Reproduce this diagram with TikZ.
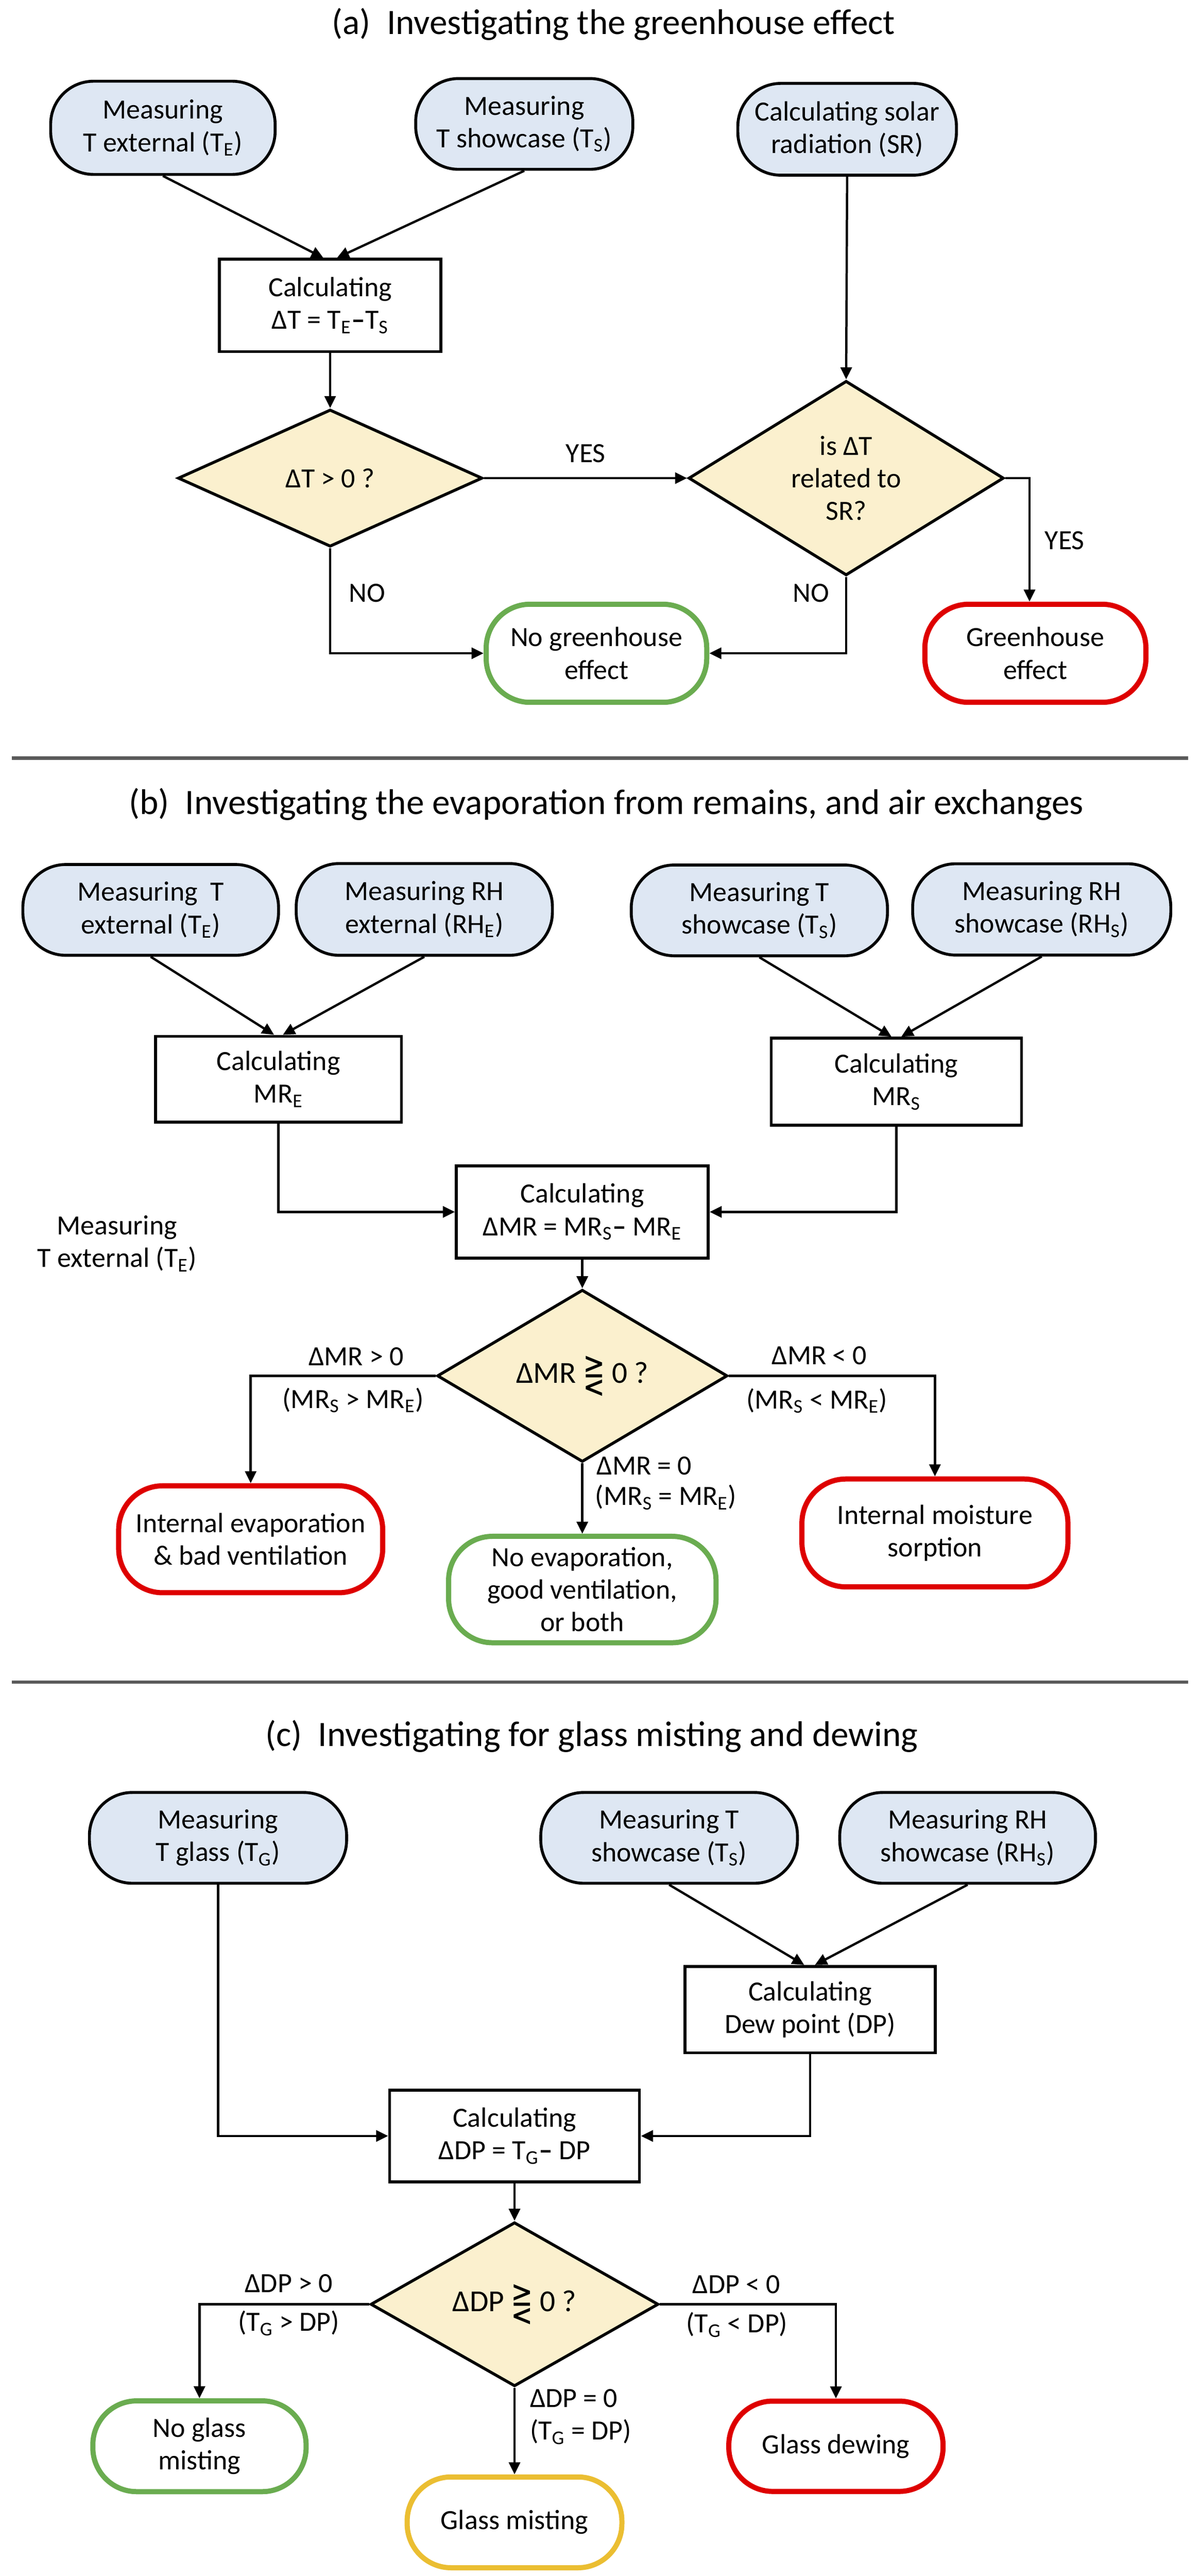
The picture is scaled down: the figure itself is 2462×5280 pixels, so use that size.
\documentclass[tikz,border=0pt]{standalone}
\usepackage{fontspec}
\setmainfont{Carlito}
\newfontfamily\symfnt{DejaVu Sans}
\usetikzlibrary{shapes.geometric,arrows.meta}
\definecolor{bluefill}{RGB}{222,231,243}
\definecolor{decfill}{RGB}{251,240,206}
\definecolor{goodgreen}{RGB}{106,172,80}
\definecolor{badred}{RGB}{222,0,0}
\definecolor{warnyellow}{RGB}{235,190,50}
\definecolor{sepgray}{RGB}{90,90,90}
\newcommand\bodyfont{\fontsize{16.2}{19}\selectfont}
\newcommand\titlefont{\fontsize{20.8}{24}\selectfont}
\newcommand\decfont{\fontsize{17.8}{21}\selectfont}
\newcommand\sbs[1]{\textsubscript{#1}}
\newcommand\gleq{\raisebox{-0.14em}{\scalebox{0.95}[1.35]{\symfnt\fontsize{16}{19}\selectfont ⋛}}}
\tikzset{
  base/.style={draw=black, line width=1.7pt, align=center, font=\bodyfont, inner sep=0pt},
  sz/.style 2 args={minimum width=#1, minimum height=#2},
  meas/.style={base, fill=bluefill, rounded corners=0.88cm},
  calc/.style={base, fill=white},
  dec/.style={base, diamond, fill=decfill},
  term/.style={base, line width=3pt, rounded corners=0.9cm, fill=white},
  good/.style={term, draw=goodgreen},
  bad/.style={term, draw=badred},
  warn/.style={term, draw=warnyellow},
  arr/.style={line width=1.35pt, -{Triangle[length=7pt,width=6.5pt]}},
  lbl/.style={font=\bodyfont, inner sep=0pt, align=center},
  ttl/.style={font=\titlefont, inner sep=0pt},
  sepline/.style={draw=sepgray, line width=1.9pt},
}
\begin{document}
\begin{tikzpicture}[x=0.01cm, y=-0.01cm]
\useasboundingbox[fill=white] (0,0) rectangle (2462,5280);

% ---------------- (a) ----------------
\node[ttl] (ta) at (1258,50) {(a)\ \ Investigating the greenhouse effect};
\node[meas, sz={4.60cm}{1.91cm}] (A1) at (334,262) {Measuring\\T external (T\sbs{E})};
\node[meas, sz={4.45cm}{1.86cm}] (A2) at (1075,254) {Measuring\\T showcase (T\sbs{S})};
\node[meas, sz={4.48cm}{1.88cm}] (A3) at (1737,265) {Calculating solar\\radiation (SR)};
\node[calc, sz={4.54cm}{1.89cm}] (C) at (677,626) {Calculating\\ΔT = T\sbs{E}\textbf{–}T\sbs{S}};
\node[dec, sz={6.24cm}{2.81cm}] (D1) at (677,980) {ΔT > 0 ?};
\node[dec, sz={6.46cm}{3.00cm}] (D2) at (1735,980) {is ΔT\\related to\\SR?};
\node[good, sz={4.52cm}{2.01cm}] (NoGH) at (1223,1339) {No greenhouse\\effect};
\node[bad, sz={4.53cm}{2.01cm}] (GH) at (2123,1339) {Greenhouse\\effect};

\draw[arr] (A1.south) -- ([xshift=-0.14cm]C.north);
\draw[arr] (A2.south) -- ([xshift=0.14cm]C.north);
\draw[arr] (A3.south) -- (D2.north);
\draw[arr] (C.south) -- (D1.north);
\draw[arr] (D1.east) -- (D2.west);
\draw[arr] (D1.south) |- (NoGH.west);
\draw[arr] (D2.south) |- (NoGH.east);
\draw[arr] (D2.east) -| ([xshift=-0.12cm]GH.north);

\node[lbl] (ya1) at (1201,929) {YES};
\node[lbl] (na1) at (753,1216) {NO};
\node[lbl] (na2) at (1663,1216) {NO};
\node[lbl] (ya2) at (2183,1108) {YES};

\draw[sepline] (24,1554) -- (2436,1554);

% ---------------- (b) ----------------
\node[ttl] (tb) at (1243,1648) {(b)\ \ Investigating the evaporation from remains, and air exchanges};
\node[meas, sz={5.24cm}{1.86cm}] (B1) at (309,1865) {Measuring\ \ T\\external (T\sbs{E})};
\node[meas, sz={5.25cm}{1.88cm}] (B2) at (870,1864) {Measuring RH\\external (RH\sbs{E})};
\node[meas, sz={5.25cm}{1.86cm}] (B3) at (1557,1866) {Measuring T\\showcase (T\sbs{S})};
\node[meas, sz={5.29cm}{1.87cm}] (B4) at (2136,1864) {Measuring RH\\showcase (RH\sbs{S})};
\node[calc, sz={5.04cm}{1.76cm}] (C1) at (571,2212) {Calculating\\MR\sbs{E}};
\node[calc, sz={5.13cm}{1.78cm}] (C2) at (1838,2217) {Calculating\\MR\sbs{S}};
\node[calc, sz={5.16cm}{1.89cm}] (C3) at (1194,2484) {Calculating\\ΔMR = MR\sbs{S}\textbf{–} MR\sbs{E}};
\node[lbl] (stray) at (240,2549) {Measuring\\T external (T\sbs{E})};
\node[dec, sz={5.95cm}{2.58cm}, font=\decfont] (D3) at (1194,2820) {ΔMR \gleq{} 0 ?};
\node[bad, sz={5.41cm}{2.19cm}] (E1) at (514,3155) {Internal evaporation\\\& bad ventilation};
\node[good, sz={5.48cm}{2.18cm}] (E2) at (1194,3258) {No evaporation,\\good ventilation,\\or both};
\node[bad, sz={5.45cm}{2.21cm}] (E3) at (1917,3142) {Internal moisture\\sorption};

\draw[arr] (B1.south) -- ([xshift=-0.09cm]C1.north);
\draw[arr] (B2.south) -- ([xshift=0.09cm]C1.north);
\draw[arr] (B3.south) -- ([xshift=-0.1cm]C2.north);
\draw[arr] (B4.south) -- ([xshift=0.1cm]C2.north);
\draw[arr] (C1.south) |- (C3.west);
\draw[arr] (C2.south) |- (C3.east);
\draw[arr] (C3.south) -- (D3.north);
\draw[arr] (D3.west) -| (E1.north);
\draw[arr] (D3.east) -| (E3.north);
\draw[arr] (D3.south) -- (E2.north);

\node[lbl] (lb1) at (730,2781) {ΔMR > 0};
\node[lbl] (lb2) at (724,2870) {(MR\sbs{S} > MR\sbs{E})};
\node[lbl] (lb3) at (1680,2779) {ΔMR < 0};
\node[lbl] (lb4) at (1675,2871) {(MR\sbs{S} < MR\sbs{E})};
\node[lbl, anchor=west] (lb5) at (1223,3004) {ΔMR = 0};
\node[lbl, anchor=west] (lb6) at (1220,3069) {(MR\sbs{S} = MR\sbs{E})};

\draw[sepline] (24,3448) -- (2436,3448);

% ---------------- (c) ----------------
\node[ttl] (tc) at (1213,3559) {(c)\ \ Investigating for glass misting and dewing};
\node[meas, sz={5.27cm}{1.86cm}] (G1) at (447,3767) {Measuring\\T glass (T\sbs{G})};
\node[meas, sz={5.26cm}{1.86cm}] (G2) at (1372,3767) {Measuring T\\showcase (T\sbs{S})};
\node[meas, sz={5.24cm}{1.86cm}] (G3) at (1984,3767) {Measuring RH\\showcase (RH\sbs{S})};
\node[calc, sz={5.13cm}{1.77cm}] (DP) at (1661,4119) {Calculating\\Dew point (DP)};
\node[calc, sz={5.12cm}{1.88cm}] (C4) at (1055,4378) {Calculating\\ΔDP = T\sbs{G}\textbf{–} DP};
\node[dec, sz={5.90cm}{2.61cm}, font=\decfont] (D4) at (1055,4723) {ΔDP \gleq{} 0 ?};
\node[good, sz={4.37cm}{1.86cm}] (F1) at (409,5014) {No glass\\misting};
\node[warn, sz={4.40cm}{1.86cm}] (F2) at (1055,5170) {Glass misting};
\node[bad, sz={4.39cm}{1.85cm}] (F3) at (1714,5014) {Glass dewing};

\draw[arr] (G2.south) -- ([xshift=-0.12cm]DP.north);
\draw[arr] (G3.south) -- ([xshift=0.1cm]DP.north);
\draw[arr] (G1.south) |- (C4.west);
\draw[arr] (DP.south) |- (C4.east);
\draw[arr] (C4.south) -- (D4.north);
\draw[arr] (D4.west) -| (F1.north);
\draw[arr] (D4.east) -| (F3.north);
\draw[arr] (D4.south) -- (F2.north);

\node[lbl] (lc1) at (592,4680) {ΔDP > 0};
\node[lbl] (lc2) at (592,4762) {(T\sbs{G} > DP)};
\node[lbl] (lc3) at (1510,4682) {ΔDP < 0};
\node[lbl] (lc4) at (1511,4765) {(T\sbs{G} < DP)};
\node[lbl, anchor=west] (lc5) at (1086,4916) {ΔDP = 0};
\node[lbl, anchor=west] (lc6) at (1086,4985) {(T\sbs{G} = DP)};
\end{tikzpicture}
\end{document}
